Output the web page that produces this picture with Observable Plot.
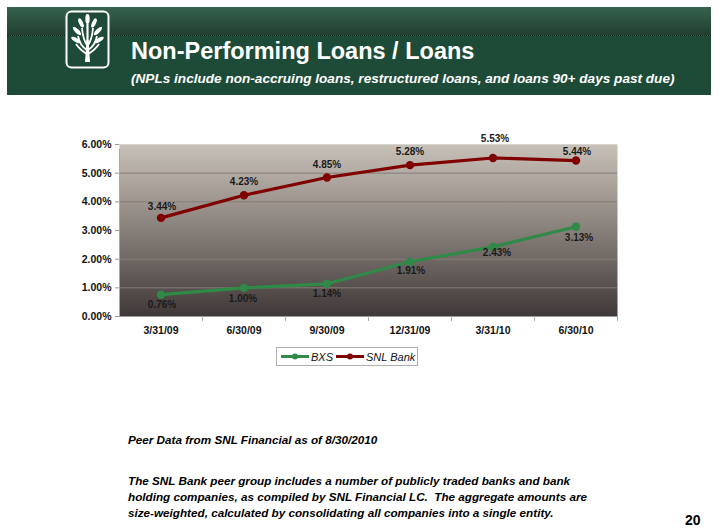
<!DOCTYPE html>
<html><head><meta charset="utf-8">
<script src="https://cdn.jsdelivr.net/npm/d3@7"></script>
<script src="https://cdn.jsdelivr.net/npm/@observablehq/plot@0.6"></script>
<style>
body{margin:0;background:#fff;font-family:"Liberation Sans",Arial,sans-serif;}
#page{position:relative;width:720px;height:532px;overflow:hidden;background:#fff;}
#hdr{position:absolute;left:7px;top:7px;width:704px;height:88px;background:#1e4b37;}
#hdrtop{position:absolute;left:0;top:0;width:704px;height:28px;background:linear-gradient(#36634e,#213f30);border-bottom:1px dotted #10251b;}
#logo{position:absolute;left:58px;top:3px;}
#title{position:absolute;left:124px;top:33px;color:#fff;font-weight:bold;font-size:23.5px;line-height:23px;white-space:nowrap;}
#subtitle{position:absolute;left:124px;top:64px;color:#fff;font-weight:bold;font-style:italic;font-size:13.6px;line-height:15px;white-space:nowrap;}
#chart{position:absolute;left:0;top:130px;}
#legend{position:absolute;left:276px;top:347px;}
.foot{position:absolute;left:128px;font-weight:bold;font-style:italic;font-size:11.7px;line-height:16px;color:#000;white-space:nowrap;}
#pnum{position:absolute;left:685px;top:512px;font-weight:bold;font-size:14px;color:#000;}
</style></head><body><div id="page">
<div id="hdr"><div id="hdrtop"></div>
<svg id="logo" width="46" height="60" viewBox="0 0 46 60">
<rect x="1.5" y="1.5" width="42" height="56" rx="5" fill="#1e4b37" stroke="#fff" stroke-width="2"/>
<g fill="#fff">
<path d="M20 52 L21.5 30 L23.5 30 L25 52 Z"/>
<ellipse cx="22.5" cy="9" rx="2.2" ry="5"/>
<ellipse cx="16" cy="13" rx="2" ry="5" transform="rotate(-25 16 13)"/>
<ellipse cx="29" cy="13" rx="2" ry="5" transform="rotate(25 29 13)"/>
<ellipse cx="12" cy="21" rx="2" ry="5.5" transform="rotate(-45 12 21)"/>
<ellipse cx="33" cy="21" rx="2" ry="5.5" transform="rotate(45 33 21)"/>
<ellipse cx="11" cy="30" rx="2" ry="5.5" transform="rotate(-60 11 30)"/>
<ellipse cx="34" cy="30" rx="2" ry="5.5" transform="rotate(60 34 30)"/>
<path d="M22.5 14 L22.5 34" stroke="#fff" stroke-width="2.2"/>
<path d="M22.5 36 Q18 30 17 18" stroke="#fff" stroke-width="1.8" fill="none"/>
<path d="M22.5 36 Q27 30 28 18" stroke="#fff" stroke-width="1.8" fill="none"/>
<path d="M22 40 Q15 36 13 26" stroke="#fff" stroke-width="1.8" fill="none"/>
<path d="M23 40 Q30 36 32 26" stroke="#fff" stroke-width="1.8" fill="none"/>
<path d="M22 44 Q15 40 11 34" stroke="#fff" stroke-width="1.8" fill="none"/>
<path d="M23 44 Q30 40 34 34" stroke="#fff" stroke-width="1.8" fill="none"/>
</g></svg>
<div id="title">Non-Performing Loans / Loans</div>
<div id="subtitle">(NPLs include non-accruing loans, restructured loans, and loans 90+ days past due)</div>
</div>
<div id="chart"></div>
<div id="legend"></div>
<div class="foot" style="top:432px">Peer Data from SNL Financial as of 8/30/2010</div>
<div class="foot" style="top:473px">The SNL Bank peer group includes a number of publicly traded banks and bank<br>holding companies, as compiled by SNL Financial LC.&nbsp; The aggregate amounts are<br>size-weighted, calculated by consolidating all companies into a single entity.</div>
<div id="pnum">20</div>
</div>
<script>
const categories = ["3/31/09","6/30/09","9/30/09","12/31/09","3/31/10","6/30/10"];
const bxs = [0.76, 1.00, 1.14, 1.91, 2.43, 3.13];
const snl = [3.44, 4.23, 4.85, 5.28, 5.53, 5.44];
const yTicks = [0, 1, 2, 3, 4, 5, 6];
const seriesNames = ["BXS", "SNL Bank"];
const seriesColors = ["#2f8a47", "#800000"];
// label nudges (pixels) [dx, dy]
const bxsLabelNudge = [[1,10],[-1,11],[0,10],[1,9],[4,6],[3,11]];
const snlLabelNudge = [[1,-11],[0,-13],[0,-13],[0,-13],[2,-19],[1,-9]];

const rows = categories.flatMap((c, i) => [
  {cat: c, series: seriesNames[0], value: bxs[i]},
  {cat: c, series: seriesNames[1], value: snl[i]}
]);
const fmt = v => v.toFixed(2) + "%";
const idx = categories.map((c, i) => i);
const half = (720 - 119 - 103) / categories.length / 2;

const labelMarks = idx.flatMap(i => [
  Plot.text([i], {x: d => categories[d], y: d => snl[d], text: d => fmt(snl[d]),
    dx: snlLabelNudge[i][0], dy: snlLabelNudge[i][1], fill: "#1a1a1a", fontSize: 10, fontWeight: "bold"}),
  Plot.text([i], {x: d => categories[d], y: d => bxs[d], text: d => fmt(bxs[d]),
    dx: bxsLabelNudge[i][0], dy: bxsLabelNudge[i][1], fill: "#1a1a1a", fontSize: 10, fontWeight: "bold"})
]);

const chart = Plot.plot({
  width: 720, height: 216,
  marginLeft: 119, marginRight: 103, marginTop: 14, marginBottom: 30,
  style: {fontFamily: '"Liberation Sans", Arial, sans-serif', fontSize: "10.5px", fontWeight: "bold", color: "#111", background: "transparent", overflow: "visible"},
  x: {domain: categories, type: "band", padding: 0, label: null, tickSize: 0, tickPadding: 10},
  y: {domain: [0, 6], ticks: yTicks, tickFormat: fmt, label: null, tickSize: 4, tickPadding: 4},
  color: {domain: seriesNames, range: seriesColors},
  marks: [
    Plot.frame({fill: "url(#plotbg)", stroke: null}),
    Plot.ruleY(yTicks.slice(1, -1), {stroke: "#857e78", strokeWidth: 1}),
    Plot.ruleY([yTicks[yTicks.length - 1]], {stroke: "#d8d4cf", strokeWidth: 1}),
    Plot.ruleY([0], {stroke: "#999", strokeWidth: 1}),
    Plot.ruleX([categories[0]], {y1: 0, y2: 6, dx: -half, insetBottom: -5, stroke: "#aaa"}),
    Plot.ruleX(categories.slice(1), {y1: 0, y2: 0, dx: -half, insetBottom: -5, stroke: "#aaa"}),
    Plot.ruleX([categories[categories.length - 1]], {y1: 0, y2: 0, dx: half, insetBottom: -5, stroke: "#aaa"}),
    Plot.line(rows, {x: "cat", y: "value", stroke: "series", z: "series", strokeWidth: 3.2}),
    Plot.dot(rows, {x: "cat", y: "value", fill: "series", r: 4.2}),
    ...labelMarks
  ]
});
const ns = "http://www.w3.org/2000/svg";
const defs = document.createElementNS(ns, "defs");
defs.innerHTML = '<linearGradient id="plotbg" x1="0" y1="0" x2="0" y2="1">' +
  '<stop offset="0" stop-color="#c8c1b8"/><stop offset="0.45" stop-color="#8e8680"/>' +
  '<stop offset="1" stop-color="#3f3838"/></linearGradient>';
chart.insertBefore(defs, chart.firstChild);
chart.querySelectorAll('[aria-label="y-axis tick"] path, [aria-label="y-axis"] path').forEach(p => p.setAttribute("stroke", "#999"));
document.getElementById("chart").appendChild(chart);

// legend
const lg = d3.select("#legend").append("svg").attr("width", 142).attr("height", 19);
lg.append("rect").attr("x", 0.5).attr("y", 0.5).attr("width", 141).attr("height", 18).attr("fill", "#fff").attr("stroke", "#b0b0b0");
const legendX = [5, 60];
seriesNames.forEach((name, i) => {
  const g = lg.append("g").attr("transform", `translate(${legendX[i]},0)`);
  g.append("line").attr("x1", 0).attr("x2", 28).attr("y1", 9.5).attr("y2", 9.5).attr("stroke", seriesColors[i]).attr("stroke-width", 3);
  g.append("circle").attr("cx", 14).attr("cy", 9.5).attr("r", 3).attr("fill", seriesColors[i]);
  g.append("text").attr("x", 30).attr("y", 13.5).attr("font-style", "italic").attr("font-size", 11)
    .attr("font-family", '"Liberation Sans", Arial, sans-serif').attr("fill", "#111").text(name);
});
</script>
</body></html>
